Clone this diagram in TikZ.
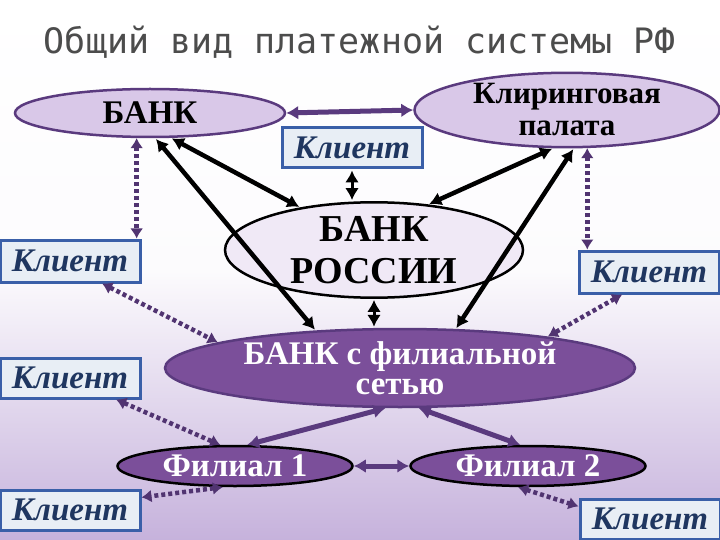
\documentclass[tikz,border=0pt]{standalone}
\usepackage{fontspec}
\setmainfont{Liberation Serif}
\newfontfamily\monof{DejaVu Sans Mono}
\usetikzlibrary{shapes.geometric,arrows.meta}
\definecolor{lav}{HTML}{D9C8E8}
\definecolor{pur}{HTML}{5A3A7E}
\definecolor{dpur}{HTML}{7B4F9A}
\definecolor{bbord}{HTML}{3A5FA8}
\definecolor{bfill}{HTML}{E8EEF5}
\definecolor{ctext}{HTML}{1F3660}
\definecolor{bgb}{HTML}{C6B2DC}
\tikzset{
 light/.style={ellipse,draw=pur,line width=2.5pt,fill=lav,inner sep=0pt,font=\bfseries\fontsize{33}{30}\selectfont,align=center},
 darkell/.style={ellipse,draw=black,line width=2.5pt,fill=dpur,text=white,inner sep=0pt,font=\bfseries\fontsize{33}{30}\selectfont,align=center},
 client/.style={draw=bbord,line width=3pt,fill=bfill,text=ctext,inner sep=0pt,font=\bfseries\itshape\fontsize{33}{30}\selectfont},
 blk/.style={line width=4.5pt,black,{Latex[length=12pt,width=14pt]}-{Latex[length=12pt,width=14pt]},shorten <=1pt,shorten >=1pt},
 parr/.style={line width=5pt,pur,{Latex[length=12pt,width=14pt]}-{Latex[length=12pt,width=14pt]}},
 dots/.style={line width=4.5pt,pur!90!black,dash pattern=on 4pt off 3pt,{Latex[length=10pt,width=13pt]}-{Latex[length=10pt,width=13pt]}},
}
\begin{document}
\begin{tikzpicture}[x=1pt,y=-1pt]
\shade[top color=white,bottom color=bgb,middle color=white!95!bgb] (0,0) rectangle (720,540);
\useasboundingbox (0,0) rectangle (720,540);
\node[text=black!70,font=\monof\fontsize{35}{35}\selectfont] (title) at (360,42) {Общий вид платежной системы РФ};
\node[light,minimum width=270,minimum height=48] (bank) at (150,113) {БАНК};
\node[light,minimum width=305,minimum height=74,font=\bfseries\fontsize{31}{32}\selectfont] (clear) at (567,110) {Клиринговая\\палата};
\node[client,minimum width=140,minimum height=40] (ct) at (352,148) {Клиент};
\node[light,draw=black,fill=white!60!lav,minimum width=298,minimum height=95,font=\bfseries\fontsize{38}{42}\selectfont] (cb) at (374,250) {БАНК\\РОССИИ};
\node[client,minimum width=140,minimum height=42] (cl) at (70,261) {Клиент};
\node[client,minimum width=140,minimum height=42] (cr) at (649,272) {Клиент};
\node[darkell,draw=pur,minimum width=470,minimum height=78] (br) at (400,368) {БАНК с филиальной\\сетью};
\node[client,minimum width=140,minimum height=40] (cml) at (70,378) {Клиент};
\node[darkell,minimum width=235,minimum height=40] (f1) at (235,466) {Филиал 1};
\node[darkell,minimum width=235,minimum height=40] (f2) at (528,466) {Филиал 2};
\node[client,minimum width=140,minimum height=40] (cbl) at (70,510) {Клиент};
\node[client,minimum width=140,minimum height=40] (cbr) at (650,519) {Клиент};
% connectors
\draw[parr] (bank.east) -- (clear.west);
\draw[blk,line width=3pt] (ct.south) -- (ct.south |- cb.north);
\draw[blk] (bank.-50) -- (cb.150);
\draw[blk] (bank.-78) -- (br.156);
\draw[blk] (clear.-110) -- (cb.40);
\draw[blk] (clear.-80) -- (br.35);
\draw[blk,line width=3pt] (cb.south) -- (cb.south |- br.north);
\draw[dots] (bank.-118) -- (bank.-118 |- cl.north);
\draw[dots] (clear.-62) -- (clear.-62 |- cr.north);
\draw[dots] (cl.-35) -- (br.172);
\draw[dots] (cr.-140) -- (br.12);
\draw[dots] (cml.-25) -- (f1.125);
\draw[parr] (br.-110) -- (f1.60);
\draw[parr] (br.-65) -- (f2.110);
\draw[parr] (f1.east) -- (f2.west);
\draw[dots] (f1.-120) -- (cbl.10);
\draw[dots] (f2.-115) -- (cbr.170);
\end{tikzpicture}
\end{document}
